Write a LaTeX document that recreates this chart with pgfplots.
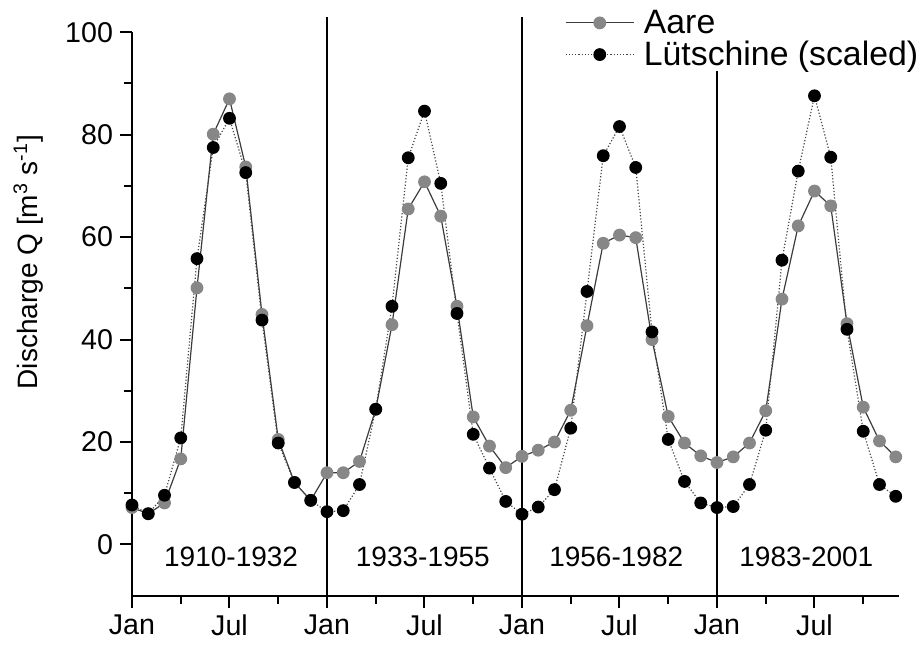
\documentclass[border=0pt]{standalone}
\usepackage{fontspec}
\setmainfont{Liberation Sans}
\usepackage{pgfplots}
\pgfplotsset{compat=1.18}
\definecolor{aaregray}{RGB}{135,135,135}
\definecolor{aareline}{RGB}{60,60,60}
\definecolor{luetline}{RGB}{70,70,70}
\pgfplotstableread{
m aare luet
0 7.2 7.7
1 6.0 6.0
2 8.1 9.6
3 16.7 20.8
4 50.1 55.8
5 80.1 77.5
6 87.0 83.2
7 73.7 72.6
8 44.9 43.8
9 20.5 19.8
10 12.1 12.1
11 8.6 8.6
12 14.0 6.4
13 14.0 6.6
14 16.2 11.7
15 26.4 26.4
16 42.9 46.5
17 65.5 75.5
18 70.8 84.6
19 64.1 70.5
20 46.5 45.1
21 24.9 21.5
22 19.2 14.9
23 15.0 8.4
24 17.2 5.9
25 18.4 7.3
26 20.0 10.7
27 26.2 22.7
28 42.7 49.4
29 58.8 75.9
30 60.4 81.6
31 59.9 73.6
32 40.0 41.5
33 25.0 20.5
34 19.8 12.3
35 17.3 8.1
36 16.0 7.2
37 17.1 7.4
38 19.8 11.7
39 26.1 22.3
40 47.9 55.5
41 62.2 72.9
42 69.0 87.6
43 66.1 75.6
44 43.1 42.0
45 26.8 22.1
46 20.2 11.7
47 17.1 9.4
}\datatable
\begin{document}
\begin{tikzpicture}
\begin{axis}[
  scale only axis,
  width=383.5pt, height=281.7pt,
  xmin=0, xmax=47.2, ymin=-10, ymax=100,
  axis x line*=bottom, axis y line*=left,
  axis line style={line width=1pt, -},
  xtick={0,6,...,42},
  xticklabels={Jan,Jul,Jan,Jul,Jan,Jul,Jan,Jul},
  minor xtick={3,9,...,45},
  ytick={0,20,...,100},
  minor ytick={10,30,...,90},
  tick align=outside,
  major tick length=6pt, minor tick length=4pt,
  every tick/.style={line width=1pt, black},
  tick label style={font=\fontsize{14.3}{16}\selectfont},
  /pgf/number format/assume math mode=true,
  ylabel={Discharge Q [m\textsuperscript{3} s\textsuperscript{-1}]},
  ylabel style={font=\fontsize{14}{16}\selectfont, at={(axis description cs:-0.135,0.592)}, anchor=center},
  clip=false,
  legend style={draw=none, fill=white, inner sep=0pt, at={(axis description cs:1.0287,1.0449)}, anchor=north east,
    font=\fontsize{16.9}{19}\selectfont, nodes={inner sep=1.2pt},
    /tikz/every odd column/.append style={column sep=3.5pt}},
  legend cell align=left,
  legend image code/.code={\draw[mark repeat=2,mark phase=2] plot coordinates {(0cm,0cm) (0.6cm,0cm) (1.2cm,0cm)};},
]
\addplot[black, line width=0.9pt, forget plot] coordinates {(12,-10) (12,103)};
\addplot[black, line width=0.9pt, forget plot] coordinates {(24,-10) (24,103)};
\addplot[black, line width=0.9pt, forget plot] coordinates {(36,-10) (36,103)};
\addplot[aareline, line width=0.6pt, mark=*, mark size=2.9pt, mark options={solid, fill=aaregray, draw=aaregray}] table[x=m, y=aare] {\datatable};
\addlegendentry{Aare}
\addplot[luetline, line width=0.6pt, densely dotted, mark=*, mark size=2.9pt, mark options={solid, fill=black, draw=black}] table[x=m, y=luet] {\datatable};
\addlegendentry{Lütschine (scaled)}
\node[font=\fontsize{14}{16}\selectfont] at (axis cs:6.1,-2.5) {1910-1932};
\node[font=\fontsize{14}{16}\selectfont] at (axis cs:17.9,-2.5) {1933-1955};
\node[font=\fontsize{14}{16}\selectfont] at (axis cs:29.8,-2.5) {1956-1982};
\node[font=\fontsize{14}{16}\selectfont] at (axis cs:41.5,-2.5) {1983-2001};
\path (rel axis cs:-0.1721,-0.0875) rectangle (rel axis cs:1.0287,1.0573);
\end{axis}
\end{tikzpicture}
\end{document}
